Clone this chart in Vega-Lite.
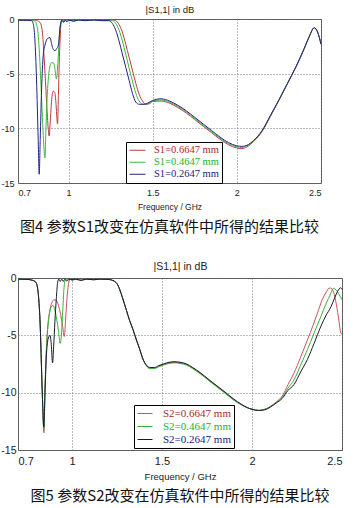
{
"$schema": "https://vega.github.io/schema/vega-lite/v6.json",
"padding": {"left": 0, "top": 3, "right": 0, "bottom": 0},
"background": "white",
"datasets": {
"p1": [
{"s":"0.6647","f":0.70,"db":-0.1},{"s":"0.6647","f":0.75,"db":-0.12},{"s":"0.6647","f":0.80,"db":-0.1},{"s":"0.6647","f":0.83,"db":-0.3},{"s":"0.6647","f":0.845,"db":-1.2},{"s":"0.6647","f":0.855,"db":-3.5},{"s":"0.6647","f":0.866,"db":-6.5},{"s":"0.6647","f":0.875,"db":-9.0},{"s":"0.6647","f":0.885,"db":-10.7},{"s":"0.6647","f":0.893,"db":-9.0},{"s":"0.6647","f":0.901,"db":-7.2},{"s":"0.6647","f":0.91,"db":-6.6},{"s":"0.6647","f":0.918,"db":-6.7},{"s":"0.6647","f":0.925,"db":-7.6},{"s":"0.6647","f":0.935,"db":-9.6},{"s":"0.6647","f":0.94,"db":-7.0},{"s":"0.6647","f":0.945,"db":-4.0},{"s":"0.6647","f":0.95,"db":-2.0},{"s":"0.6647","f":0.955,"db":-0.5},{"s":"0.6647","f":0.965,"db":-0.05},{"s":"0.6647","f":0.975,"db":-0.25},{"s":"0.6647","f":0.985,"db":-0.05},{"s":"0.6647","f":0.995,"db":-0.2},{"s":"0.6647","f":1.01,"db":-0.05},{"s":"0.6647","f":1.03,"db":-0.15},{"s":"0.6647","f":1.06,"db":-0.05},{"s":"0.6647","f":1.1,"db":-0.1},{"s":"0.6647","f":1.15,"db":-0.05},{"s":"0.6647","f":1.2,"db":-0.1},{"s":"0.6647","f":1.25,"db":-0.05},{"s":"0.6647","f":1.28,"db":-0.15},{"s":"0.6647","f":1.30,"db":-0.5},{"s":"0.6647","f":1.32,"db":-1.2},{"s":"0.6647","f":1.34,"db":-2.3},{"s":"0.6647","f":1.36,"db":-3.5},{"s":"0.6647","f":1.38,"db":-4.7},{"s":"0.6647","f":1.40,"db":-5.9},{"s":"0.6647","f":1.42,"db":-6.9},{"s":"0.6647","f":1.44,"db":-7.5},{"s":"0.6647","f":1.46,"db":-7.8},{"s":"0.6647","f":1.48,"db":-7.75},{"s":"0.6647","f":1.50,"db":-7.55},{"s":"0.6647","f":1.55,"db":-7.5},{"s":"0.6647","f":1.60,"db":-7.7},{"s":"0.6647","f":1.65,"db":-8.1},{"s":"0.6647","f":1.70,"db":-8.6},{"s":"0.6647","f":1.75,"db":-9.2},{"s":"0.6647","f":1.80,"db":-9.8},{"s":"0.6647","f":1.85,"db":-10.4},{"s":"0.6647","f":1.90,"db":-11.0},{"s":"0.6647","f":1.95,"db":-11.5},{"s":"0.6647","f":2.00,"db":-11.8},{"s":"0.6647","f":2.03,"db":-11.85},{"s":"0.6647","f":2.06,"db":-11.7},{"s":"0.6647","f":2.10,"db":-11.2},{"s":"0.6647","f":2.15,"db":-10.3},{"s":"0.6647","f":2.20,"db":-8.9},{"s":"0.6647","f":2.25,"db":-7.45},{"s":"0.6647","f":2.30,"db":-5.95},{"s":"0.6647","f":2.35,"db":-4.45},{"s":"0.6647","f":2.40,"db":-2.75},{"s":"0.6647","f":2.43,"db":-1.65},{"s":"0.6647","f":2.46,"db":-0.8},{"s":"0.6647","f":2.48,"db":-1.2},{"s":"0.6647","f":2.50,"db":-2.3},
{"s":"0.4647","f":0.70,"db":-0.1},{"s":"0.4647","f":0.75,"db":-0.12},{"s":"0.4647","f":0.78,"db":-0.1},{"s":"0.4647","f":0.80,"db":-0.2},{"s":"0.4647","f":0.815,"db":-0.8},{"s":"0.4647","f":0.825,"db":-2.5},{"s":"0.4647","f":0.835,"db":-5.5},{"s":"0.4647","f":0.845,"db":-9.0},{"s":"0.4647","f":0.853,"db":-11.5},{"s":"0.4647","f":0.86,"db":-12.7},{"s":"0.4647","f":0.866,"db":-10.0},{"s":"0.4647","f":0.872,"db":-7.5},{"s":"0.4647","f":0.88,"db":-5.5},{"s":"0.4647","f":0.89,"db":-4.3},{"s":"0.4647","f":0.90,"db":-4.0},{"s":"0.4647","f":0.91,"db":-4.0},{"s":"0.4647","f":0.92,"db":-4.6},{"s":"0.4647","f":0.928,"db":-5.5},{"s":"0.4647","f":0.935,"db":-4.5},{"s":"0.4647","f":0.942,"db":-2.6},{"s":"0.4647","f":0.95,"db":-0.6},{"s":"0.4647","f":0.96,"db":-0.1},{"s":"0.4647","f":0.97,"db":-0.3},{"s":"0.4647","f":0.98,"db":-0.1},{"s":"0.4647","f":0.99,"db":-0.25},{"s":"0.4647","f":1.0,"db":-0.1},{"s":"0.4647","f":1.03,"db":-0.2},{"s":"0.4647","f":1.06,"db":-0.1},{"s":"0.4647","f":1.1,"db":-0.15},{"s":"0.4647","f":1.15,"db":-0.1},{"s":"0.4647","f":1.2,"db":-0.15},{"s":"0.4647","f":1.26,"db":-0.15},{"s":"0.4647","f":1.28,"db":-0.4},{"s":"0.4647","f":1.30,"db":-1.0},{"s":"0.4647","f":1.32,"db":-2.0},{"s":"0.4647","f":1.34,"db":-3.2},{"s":"0.4647","f":1.36,"db":-4.5},{"s":"0.4647","f":1.38,"db":-5.7},{"s":"0.4647","f":1.40,"db":-6.8},{"s":"0.4647","f":1.42,"db":-7.5},{"s":"0.4647","f":1.44,"db":-7.8},{"s":"0.4647","f":1.47,"db":-7.75},{"s":"0.4647","f":1.50,"db":-7.5},{"s":"0.4647","f":1.55,"db":-7.4},{"s":"0.4647","f":1.60,"db":-7.6},{"s":"0.4647","f":1.65,"db":-8.0},{"s":"0.4647","f":1.70,"db":-8.5},{"s":"0.4647","f":1.75,"db":-9.1},{"s":"0.4647","f":1.80,"db":-9.7},{"s":"0.4647","f":1.85,"db":-10.3},{"s":"0.4647","f":1.90,"db":-10.9},{"s":"0.4647","f":1.95,"db":-11.4},{"s":"0.4647","f":2.00,"db":-11.7},{"s":"0.4647","f":2.03,"db":-11.75},{"s":"0.4647","f":2.06,"db":-11.6},{"s":"0.4647","f":2.10,"db":-11.15},{"s":"0.4647","f":2.15,"db":-10.25},{"s":"0.4647","f":2.20,"db":-8.85},{"s":"0.4647","f":2.25,"db":-7.4},{"s":"0.4647","f":2.30,"db":-5.9},{"s":"0.4647","f":2.35,"db":-4.4},{"s":"0.4647","f":2.40,"db":-2.7},{"s":"0.4647","f":2.43,"db":-1.6},{"s":"0.4647","f":2.46,"db":-0.8},{"s":"0.4647","f":2.48,"db":-1.2},{"s":"0.4647","f":2.50,"db":-2.3},
{"s":"0.2647","f":0.70,"db":-0.1},{"s":"0.2647","f":0.75,"db":-0.12},{"s":"0.2647","f":0.78,"db":-0.15},{"s":"0.2647","f":0.79,"db":-0.4},{"s":"0.2647","f":0.80,"db":-1.8},{"s":"0.2647","f":0.81,"db":-5.5},{"s":"0.2647","f":0.82,"db":-11.0},{"s":"0.2647","f":0.826,"db":-14.2},{"s":"0.2647","f":0.832,"db":-11.0},{"s":"0.2647","f":0.84,"db":-6.5},{"s":"0.2647","f":0.85,"db":-3.3},{"s":"0.2647","f":0.86,"db":-2.4},{"s":"0.2647","f":0.875,"db":-1.8},{"s":"0.2647","f":0.89,"db":-1.7},{"s":"0.2647","f":0.90,"db":-2.3},{"s":"0.2647","f":0.91,"db":-2.8},{"s":"0.2647","f":0.92,"db":-2.9},{"s":"0.2647","f":0.93,"db":-2.7},{"s":"0.2647","f":0.94,"db":-2.4},{"s":"0.2647","f":0.95,"db":-0.8},{"s":"0.2647","f":0.96,"db":-0.1},{"s":"0.2647","f":0.97,"db":-0.3},{"s":"0.2647","f":0.98,"db":-0.1},{"s":"0.2647","f":0.99,"db":-0.25},{"s":"0.2647","f":1.0,"db":-0.1},{"s":"0.2647","f":1.03,"db":-0.2},{"s":"0.2647","f":1.06,"db":-0.1},{"s":"0.2647","f":1.1,"db":-0.15},{"s":"0.2647","f":1.15,"db":-0.1},{"s":"0.2647","f":1.2,"db":-0.15},{"s":"0.2647","f":1.24,"db":-0.15},{"s":"0.2647","f":1.26,"db":-0.4},{"s":"0.2647","f":1.28,"db":-1.0},{"s":"0.2647","f":1.30,"db":-2.0},{"s":"0.2647","f":1.32,"db":-3.2},{"s":"0.2647","f":1.34,"db":-4.4},{"s":"0.2647","f":1.36,"db":-5.6},{"s":"0.2647","f":1.38,"db":-6.8},{"s":"0.2647","f":1.40,"db":-7.6},{"s":"0.2647","f":1.42,"db":-7.8},{"s":"0.2647","f":1.45,"db":-7.8},{"s":"0.2647","f":1.47,"db":-7.7},{"s":"0.2647","f":1.50,"db":-7.45},{"s":"0.2647","f":1.55,"db":-7.3},{"s":"0.2647","f":1.60,"db":-7.5},{"s":"0.2647","f":1.65,"db":-7.9},{"s":"0.2647","f":1.70,"db":-8.4},{"s":"0.2647","f":1.75,"db":-9.0},{"s":"0.2647","f":1.80,"db":-9.6},{"s":"0.2647","f":1.85,"db":-10.2},{"s":"0.2647","f":1.90,"db":-10.8},{"s":"0.2647","f":1.95,"db":-11.3},{"s":"0.2647","f":2.00,"db":-11.6},{"s":"0.2647","f":2.03,"db":-11.65},{"s":"0.2647","f":2.06,"db":-11.55},{"s":"0.2647","f":2.10,"db":-11.1},{"s":"0.2647","f":2.15,"db":-10.2},{"s":"0.2647","f":2.20,"db":-8.8},{"s":"0.2647","f":2.25,"db":-7.4},{"s":"0.2647","f":2.30,"db":-5.9},{"s":"0.2647","f":2.35,"db":-4.4},{"s":"0.2647","f":2.40,"db":-2.7},{"s":"0.2647","f":2.43,"db":-1.6},{"s":"0.2647","f":2.46,"db":-0.8},{"s":"0.2647","f":2.48,"db":-1.2},{"s":"0.2647","f":2.50,"db":-2.3}
],
"p2": [
{"s":"0.6647","f":0.70,"db":-0.1},{"s":"0.6647","f":0.75,"db":-0.12},{"s":"0.6647","f":0.78,"db":-0.2},{"s":"0.6647","f":0.795,"db":-0.3},{"s":"0.6647","f":0.805,"db":-0.6},{"s":"0.6647","f":0.815,"db":-1.8},{"s":"0.6647","f":0.823,"db":-4.0},{"s":"0.6647","f":0.83,"db":-7.5},{"s":"0.6647","f":0.837,"db":-11.0},{"s":"0.6647","f":0.844,"db":-13.5},{"s":"0.6647","f":0.85,"db":-9.8},{"s":"0.6647","f":0.857,"db":-6.5},{"s":"0.6647","f":0.865,"db":-4.3},{"s":"0.6647","f":0.875,"db":-3.0},{"s":"0.6647","f":0.887,"db":-2.2},{"s":"0.6647","f":0.9,"db":-1.9},{"s":"0.6647","f":0.912,"db":-1.95},{"s":"0.6647","f":0.925,"db":-2.4},{"s":"0.6647","f":0.937,"db":-3.2},{"s":"0.6647","f":0.948,"db":-4.2},{"s":"0.6647","f":0.957,"db":-5.1},{"s":"0.6647","f":0.965,"db":-3.5},{"s":"0.6647","f":0.972,"db":-1.8},{"s":"0.6647","f":0.98,"db":-0.6},{"s":"0.6647","f":0.987,"db":-0.15},{"s":"0.6647","f":0.995,"db":-0.1},{"s":"0.6647","f":1.0,"db":-0.2},
{"s":"0.6647","f":1.02,"db":-0.1},{"s":"0.6647","f":1.05,"db":-0.2},{"s":"0.6647","f":1.08,"db":-0.1},{"s":"0.6647","f":1.12,"db":-0.15},{"s":"0.6647","f":1.16,"db":-0.1},{"s":"0.6647","f":1.2,"db":-0.12},{"s":"0.6647","f":1.237,"db":-0.3},{"s":"0.6647","f":1.25,"db":-0.5},{"s":"0.6647","f":1.265,"db":-1.0},{"s":"0.6647","f":1.28,"db":-1.7},{"s":"0.6647","f":1.302,"db":-2.8},{"s":"0.6647","f":1.32,"db":-3.7},{"s":"0.6647","f":1.339,"db":-4.5},{"s":"0.6647","f":1.36,"db":-5.5},{"s":"0.6647","f":1.376,"db":-6.2},{"s":"0.6647","f":1.39,"db":-6.9},{"s":"0.6647","f":1.404,"db":-7.4},{"s":"0.6647","f":1.42,"db":-7.75},{"s":"0.6647","f":1.432,"db":-7.85},{"s":"0.6647","f":1.46,"db":-7.85},{"s":"0.6647","f":1.48,"db":-7.7},{"s":"0.6647","f":1.507,"db":-7.55},{"s":"0.6647","f":1.54,"db":-7.4},{"s":"0.6647","f":1.572,"db":-7.35},{"s":"0.6647","f":1.60,"db":-7.4},{"s":"0.6647","f":1.637,"db":-7.55},{"s":"0.6647","f":1.67,"db":-7.85},{"s":"0.6647","f":1.712,"db":-8.3},{"s":"0.6647","f":1.76,"db":-8.9},{"s":"0.6647","f":1.805,"db":-9.45},{"s":"0.6647","f":1.85,"db":-10.0},{"s":"0.6647","f":1.898,"db":-10.6},{"s":"0.6647","f":1.94,"db":-11.05},{"s":"0.6647","f":1.973,"db":-11.3},{"s":"0.6647","f":2.0,"db":-11.45},{"s":"0.6647","f":2.038,"db":-11.55},{"s":"0.6647","f":2.07,"db":-11.45},{"s":"0.6647","f":2.103,"db":-11.2},{"s":"0.6647","f":2.135,"db":-10.8},{"s":"0.6647","f":2.168,"db":-10.3},
{"s":"0.6647","f":2.20,"db":-9.3},{"s":"0.6647","f":2.233,"db":-8.3},{"s":"0.6647","f":2.27,"db":-6.9},{"s":"0.6647","f":2.308,"db":-5.4},{"s":"0.6647","f":2.34,"db":-4.1},{"s":"0.6647","f":2.364,"db":-3.05},{"s":"0.6647","f":2.39,"db":-1.9},{"s":"0.6647","f":2.41,"db":-1.3},{"s":"0.6647","f":2.427,"db":-0.9},{"s":"0.6647","f":2.435,"db":-0.87},{"s":"0.6647","f":2.45,"db":-1.1},{"s":"0.6647","f":2.465,"db":-2.0},{"s":"0.6647","f":2.48,"db":-3.4},{"s":"0.6647","f":2.494,"db":-4.8},{"s":"0.6647","f":2.5,"db":-4.9},
{"s":"0.4647","f":0.70,"db":-0.1},{"s":"0.4647","f":0.75,"db":-0.12},{"s":"0.4647","f":0.78,"db":-0.2},{"s":"0.4647","f":0.795,"db":-0.3},{"s":"0.4647","f":0.805,"db":-0.6},{"s":"0.4647","f":0.815,"db":-1.8},{"s":"0.4647","f":0.823,"db":-4.0},{"s":"0.4647","f":0.83,"db":-7.5},{"s":"0.4647","f":0.837,"db":-11.0},{"s":"0.4647","f":0.844,"db":-13.2},{"s":"0.4647","f":0.85,"db":-9.5},{"s":"0.4647","f":0.857,"db":-6.5},{"s":"0.4647","f":0.865,"db":-4.5},{"s":"0.4647","f":0.875,"db":-3.1},{"s":"0.4647","f":0.885,"db":-2.5},{"s":"0.4647","f":0.895,"db":-2.4},{"s":"0.4647","f":0.905,"db":-2.8},{"s":"0.4647","f":0.915,"db":-3.6},{"s":"0.4647","f":0.925,"db":-4.6},{"s":"0.4647","f":0.934,"db":-5.7},{"s":"0.4647","f":0.94,"db":-5.2},{"s":"0.4647","f":0.948,"db":-3.0},{"s":"0.4647","f":0.955,"db":-1.0},{"s":"0.4647","f":0.962,"db":-0.2},{"s":"0.4647","f":0.97,"db":-0.1},{"s":"0.4647","f":0.98,"db":-0.3},{"s":"0.4647","f":0.99,"db":-0.1},{"s":"0.4647","f":1.0,"db":-0.2},
{"s":"0.4647","f":1.02,"db":-0.1},{"s":"0.4647","f":1.05,"db":-0.2},{"s":"0.4647","f":1.08,"db":-0.1},{"s":"0.4647","f":1.12,"db":-0.15},{"s":"0.4647","f":1.16,"db":-0.1},{"s":"0.4647","f":1.2,"db":-0.12},{"s":"0.4647","f":1.237,"db":-0.3},{"s":"0.4647","f":1.25,"db":-0.5},{"s":"0.4647","f":1.265,"db":-1.0},{"s":"0.4647","f":1.28,"db":-1.7},{"s":"0.4647","f":1.302,"db":-2.8},{"s":"0.4647","f":1.32,"db":-3.7},{"s":"0.4647","f":1.339,"db":-4.5},{"s":"0.4647","f":1.36,"db":-5.5},{"s":"0.4647","f":1.376,"db":-6.2},{"s":"0.4647","f":1.39,"db":-6.9},{"s":"0.4647","f":1.404,"db":-7.4},{"s":"0.4647","f":1.42,"db":-7.8},{"s":"0.4647","f":1.432,"db":-7.9},{"s":"0.4647","f":1.46,"db":-7.9},{"s":"0.4647","f":1.48,"db":-7.75},{"s":"0.4647","f":1.507,"db":-7.6},{"s":"0.4647","f":1.54,"db":-7.45},{"s":"0.4647","f":1.572,"db":-7.4},{"s":"0.4647","f":1.60,"db":-7.45},{"s":"0.4647","f":1.637,"db":-7.6},{"s":"0.4647","f":1.67,"db":-7.9},{"s":"0.4647","f":1.712,"db":-8.35},{"s":"0.4647","f":1.76,"db":-8.95},{"s":"0.4647","f":1.805,"db":-9.5},{"s":"0.4647","f":1.85,"db":-10.05},{"s":"0.4647","f":1.898,"db":-10.65},{"s":"0.4647","f":1.94,"db":-11.05},{"s":"0.4647","f":1.973,"db":-11.3},{"s":"0.4647","f":2.0,"db":-11.45},{"s":"0.4647","f":2.038,"db":-11.55},{"s":"0.4647","f":2.07,"db":-11.45},{"s":"0.4647","f":2.103,"db":-11.2},{"s":"0.4647","f":2.135,"db":-10.85},{"s":"0.4647","f":2.168,"db":-10.4},
{"s":"0.4647","f":2.20,"db":-9.6},{"s":"0.4647","f":2.233,"db":-8.9},{"s":"0.4647","f":2.27,"db":-7.6},{"s":"0.4647","f":2.308,"db":-6.25},{"s":"0.4647","f":2.345,"db":-4.8},{"s":"0.4647","f":2.383,"db":-3.35},{"s":"0.4647","f":2.41,"db":-2.3},{"s":"0.4647","f":2.439,"db":-1.3},{"s":"0.4647","f":2.451,"db":-0.9},{"s":"0.4647","f":2.46,"db":-0.95},{"s":"0.4647","f":2.475,"db":-1.2},{"s":"0.4647","f":2.49,"db":-1.6},{"s":"0.4647","f":2.5,"db":-1.9},
{"s":"0.2647","f":0.70,"db":-0.1},{"s":"0.2647","f":0.75,"db":-0.12},{"s":"0.2647","f":0.78,"db":-0.2},{"s":"0.2647","f":0.795,"db":-0.3},{"s":"0.2647","f":0.805,"db":-0.6},{"s":"0.2647","f":0.815,"db":-1.8},{"s":"0.2647","f":0.823,"db":-4.0},{"s":"0.2647","f":0.83,"db":-7.5},{"s":"0.2647","f":0.837,"db":-11.0},{"s":"0.2647","f":0.843,"db":-13.0},{"s":"0.2647","f":0.85,"db":-10.0},{"s":"0.2647","f":0.857,"db":-7.0},{"s":"0.2647","f":0.865,"db":-5.5},{"s":"0.2647","f":0.872,"db":-5.1},{"s":"0.2647","f":0.878,"db":-5.0},{"s":"0.2647","f":0.885,"db":-5.8},{"s":"0.2647","f":0.892,"db":-7.4},{"s":"0.2647","f":0.898,"db":-6.0},{"s":"0.2647","f":0.905,"db":-3.8},{"s":"0.2647","f":0.913,"db":-1.8},{"s":"0.2647","f":0.92,"db":-0.4},{"s":"0.2647","f":0.927,"db":-0.1},{"s":"0.2647","f":0.935,"db":-0.3},{"s":"0.2647","f":0.943,"db":-0.1},{"s":"0.2647","f":0.951,"db":-0.3},{"s":"0.2647","f":0.96,"db":-0.1},{"s":"0.2647","f":0.97,"db":-0.25},{"s":"0.2647","f":0.98,"db":-0.1},{"s":"0.2647","f":1.0,"db":-0.15},
{"s":"0.2647","f":1.02,"db":-0.1},{"s":"0.2647","f":1.05,"db":-0.2},{"s":"0.2647","f":1.08,"db":-0.1},{"s":"0.2647","f":1.12,"db":-0.15},{"s":"0.2647","f":1.16,"db":-0.1},{"s":"0.2647","f":1.2,"db":-0.12},{"s":"0.2647","f":1.237,"db":-0.3},{"s":"0.2647","f":1.25,"db":-0.5},{"s":"0.2647","f":1.265,"db":-1.0},{"s":"0.2647","f":1.28,"db":-1.7},{"s":"0.2647","f":1.302,"db":-2.8},{"s":"0.2647","f":1.32,"db":-3.7},{"s":"0.2647","f":1.339,"db":-4.5},{"s":"0.2647","f":1.36,"db":-5.5},{"s":"0.2647","f":1.376,"db":-6.2},{"s":"0.2647","f":1.39,"db":-6.9},{"s":"0.2647","f":1.404,"db":-7.4},{"s":"0.2647","f":1.42,"db":-7.7},{"s":"0.2647","f":1.432,"db":-7.8},{"s":"0.2647","f":1.46,"db":-7.8},{"s":"0.2647","f":1.48,"db":-7.65},{"s":"0.2647","f":1.507,"db":-7.5},{"s":"0.2647","f":1.54,"db":-7.35},{"s":"0.2647","f":1.572,"db":-7.3},{"s":"0.2647","f":1.60,"db":-7.35},{"s":"0.2647","f":1.637,"db":-7.5},{"s":"0.2647","f":1.67,"db":-7.8},{"s":"0.2647","f":1.712,"db":-8.25},{"s":"0.2647","f":1.76,"db":-8.85},{"s":"0.2647","f":1.805,"db":-9.4},{"s":"0.2647","f":1.85,"db":-9.95},{"s":"0.2647","f":1.898,"db":-10.55},{"s":"0.2647","f":1.94,"db":-11.0},{"s":"0.2647","f":1.973,"db":-11.3},{"s":"0.2647","f":2.0,"db":-11.45},{"s":"0.2647","f":2.038,"db":-11.55},{"s":"0.2647","f":2.07,"db":-11.5},{"s":"0.2647","f":2.103,"db":-11.25},{"s":"0.2647","f":2.135,"db":-10.9},{"s":"0.2647","f":2.168,"db":-10.5},
{"s":"0.2647","f":2.20,"db":-9.8},{"s":"0.2647","f":2.233,"db":-9.3},{"s":"0.2647","f":2.27,"db":-8.2},{"s":"0.2647","f":2.308,"db":-7.1},{"s":"0.2647","f":2.345,"db":-5.7},{"s":"0.2647","f":2.383,"db":-4.2},{"s":"0.2647","f":2.41,"db":-3.3},{"s":"0.2647","f":2.439,"db":-2.5},{"s":"0.2647","f":2.46,"db":-1.7},{"s":"0.2647","f":2.476,"db":-1.15},{"s":"0.2647","f":2.493,"db":-0.85},{"s":"0.2647","f":2.5,"db":-1.0}
]
},
"concat": [
{
"width": 303, "height": 164,
"data": {"name": "p1"},
"title": {"text": "图4 参数S1改变在仿真软件中所得的结果比较", "orient": "bottom", "anchor": "middle", "font": "Noto Sans CJK SC", "fontSize": 15, "fontWeight": "normal", "color": "#111", "offset": 9},
"mark": {"type": "line", "strokeWidth": 1, "interpolate": "monotone"},
"encoding": {
"x": {"field": "f", "type": "quantitative", "scale": {"domain": [0.7, 2.5], "nice": false, "zero": false},
 "axis": {"values": [0.7, 1, 1.5, 2, 2.5], "labelExpr": "'' + datum.value", "title": "Frequency / GHz", "titleFont": "Liberation Sans", "titleFontSize": 8.5, "titleFontWeight": "normal", "titleColor": "#222", "titlePadding": 5, "labelFont": "Liberation Sans", "labelFontSize": 9, "labelColor": "#222", "labelPadding": 5, "ticks": false, "domain": false, "grid": true, "gridDash": [1, 2], "gridColor": "#777", "labelOverlap": false}},
"y": {"field": "db", "type": "quantitative", "scale": {"domain": [-15, 0], "nice": false, "zero": false},
 "axis": {"values": [0, -5, -10, -15], "labelExpr": "'' + datum.value", "title": "|S1,1| in dB", "titleAngle": 0, "titleX": 151.5, "titleY": -7, "titleAlign": "center", "titleBaseline": "alphabetic", "titleFont": "Liberation Sans", "titleFontSize": 9.5, "titleFontWeight": "normal", "titleColor": "#222", "labelFont": "Liberation Sans", "labelFontSize": 9, "labelColor": "#222", "labelPadding": 4, "ticks": false, "domain": false, "grid": true, "gridDash": [1, 2], "gridColor": "#777", "labelOverlap": false}},
"color": {"field": "s", "type": "nominal", "scale": {"domain": ["0.6647", "0.4647", "0.2647"], "range": ["#c03a3a", "#3cb83c", "#22228a"]},
 "legend": {"title": null, "orient": "none", "legendX": 108, "legendY": 123, "labelExpr": "'S1=' + datum.label + ' mm'", "symbolType": "stroke", "symbolSize": 256, "symbolStrokeWidth": 1, "clipHeight": 10.5, "labelFont": "Liberation Serif", "labelFontSize": 10.5, "labelOffset": 8, "padding": 3, "rowPadding": 1, "strokeColor": "#000", "fillColor": "#fff",
  "encode": {"labels": {"update": {"fill": {"signal": "datum.value == '0.6647' ? '#b02828' : datum.value == '0.4647' ? '#28b028' : '#1a1a80'"}}}}}}
}
},
{
"width": 324, "height": 172,
"data": {"name": "p2"},
"title": {"text": "图5 参数S2改变在仿真软件中所得的结果比较", "orient": "bottom", "anchor": "middle", "font": "Noto Sans CJK SC", "fontSize": 15, "fontWeight": "normal", "color": "#111", "offset": 8},
"mark": {"type": "line", "strokeWidth": 1, "interpolate": "monotone"},
"encoding": {
"x": {"field": "f", "type": "quantitative", "scale": {"domain": [0.7, 2.5], "nice": false, "zero": false},
 "axis": {"values": [0.7, 1, 1.5, 2, 2.5], "labelExpr": "'' + datum.value", "title": "Frequency / GHz", "titleFont": "Liberation Sans", "titleFontSize": 9.5, "titleFontWeight": "normal", "titleColor": "#222", "titlePadding": 5, "labelFont": "Liberation Sans", "labelFontSize": 11, "labelColor": "#222", "labelPadding": 5, "ticks": false, "domain": false, "grid": true, "gridDash": [1, 2], "gridColor": "#777", "labelOverlap": false}},
"y": {"field": "db", "type": "quantitative", "scale": {"domain": [-15, 0], "nice": false, "zero": false},
 "axis": {"values": [0, -5, -10, -15], "labelExpr": "'' + datum.value", "title": "|S1,1| in dB", "titleAngle": 0, "titleX": 162, "titleY": -9, "titleAlign": "center", "titleBaseline": "alphabetic", "titleFont": "Liberation Sans", "titleFontSize": 10.5, "titleFontWeight": "normal", "titleColor": "#222", "labelFont": "Liberation Sans", "labelFontSize": 10.5, "labelColor": "#222", "labelPadding": 2, "ticks": false, "domain": false, "grid": true, "gridDash": [1, 2], "gridColor": "#777", "labelOverlap": false}},
"color": {"field": "s", "type": "nominal", "scale": {"domain": ["0.6647", "0.4647", "0.2647"], "range": ["#cc5060", "#38b038", "#181830"]},
 "legend": {"title": null, "orient": "none", "legendX": 116, "legendY": 127, "labelExpr": "'S2=' + datum.label + ' mm'", "symbolType": "stroke", "symbolSize": 225, "symbolStrokeWidth": 1, "clipHeight": 11, "labelFont": "Liberation Serif", "labelFontSize": 11, "labelOffset": 10, "padding": 3, "rowPadding": 1, "strokeColor": "#000", "fillColor": "#fff",
  "encode": {"labels": {"update": {"fill": {"signal": "datum.value == '0.6647' ? '#b02828' : datum.value == '0.4647' ? '#28b028' : '#1a1a80'"}}}}}}
}
}
],
"columns": 1,
"spacing": 25,
"resolve": {"scale": {"color": "independent", "x": "independent", "y": "independent"}, "legend": {"color": "independent"}},
"config": {"view": {"stroke": "#555", "strokeWidth": 1}}
}
